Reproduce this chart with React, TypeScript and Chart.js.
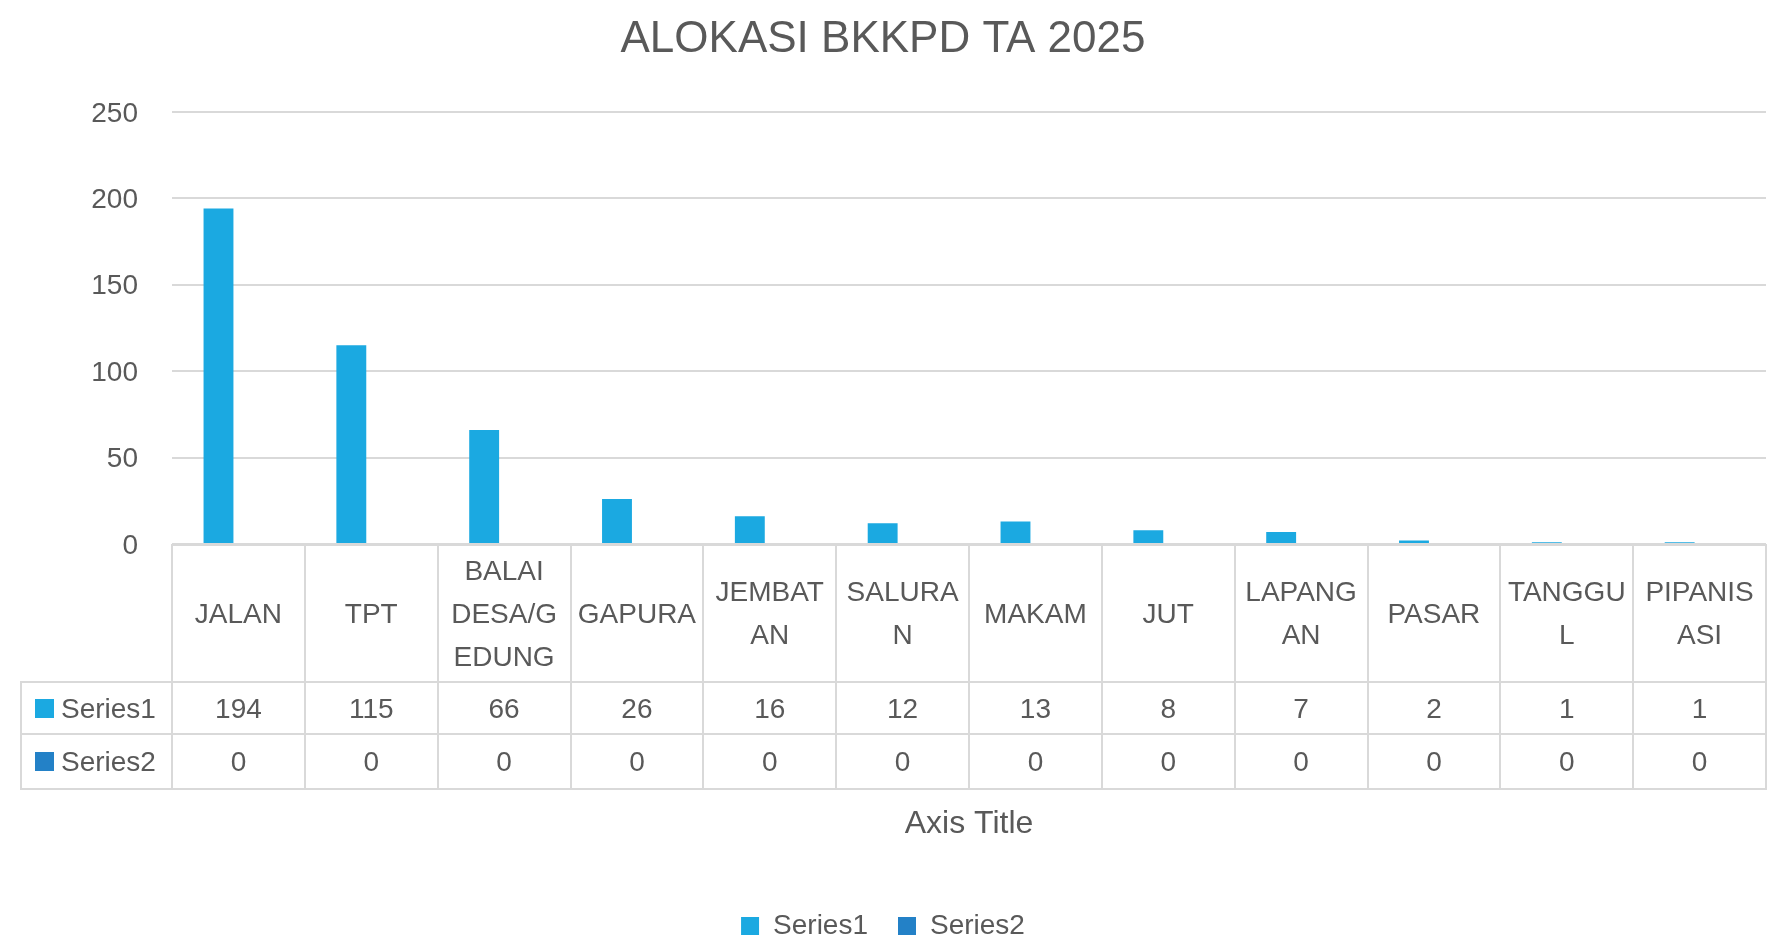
import React, { useEffect, useRef } from 'react';
import { Chart, registerables } from 'chart.js';

Chart.register(...registerables);

// ---------- data ----------
const chartTitle = 'ALOKASI BKKPD TA 2025';
const xAxisTitle = 'Axis Title';
const categories: string[][] = [
  ['JALAN'],
  ['TPT'],
  ['BALAI', 'DESA/G', 'EDUNG'],
  ['GAPURA'],
  ['JEMBAT', 'AN'],
  ['SALURA', 'N'],
  ['MAKAM'],
  ['JUT'],
  ['LAPANG', 'AN'],
  ['PASAR'],
  ['TANGGU', 'L'],
  ['PIPANIS', 'ASI'],
];
const seriesNames = ['Series1', 'Series2'];
const series1 = [194, 115, 66, 26, 16, 12, 13, 8, 7, 2, 1, 1];
const series2 = [0, 0, 0, 0, 0, 0, 0, 0, 0, 0, 0, 0];
const yTicks = [0, 50, 100, 150, 200, 250];

// ---------- styles ----------
const FONT = '"Liberation Sans", Arial, sans-serif';
const TEXT = '#595959';
const GRID = '#D9D9D9';
const COLORS = ['#1BA9E1', '#2381C7'];
const HEADER_H = 138;
const ROW_H = [52, 55];
const TABLE_LEFT = 21;
const LINE_H = 43;
const TABLE_FONT = 28;
const TEXT_SHIFT = 2;

function tableGeom(chart: any) {
  const { chartArea } = chart;
  const n = chart.data.labels.length;
  const left = chartArea.left;
  const right = chartArea.right;
  const colW = (right - left) / n;
  const top = chartArea.bottom;
  const hb = top + HEADER_H;
  const r1 = hb + ROW_H[0];
  const r2 = r1 + ROW_H[1];
  return { n, left, right, colW, top, hb, r1, r2 };
}

const tablePlugin = {
  id: 'dataTable',
  beforeDatasetsDraw(chart: any) {
    const { ctx } = chart;
    const { n, left, right, colW, top, hb, r1, r2 } = tableGeom(chart);
    ctx.save();
    ctx.strokeStyle = GRID;
    ctx.lineWidth = 2;
    ctx.beginPath();
    const hline = (x0: number, x1: number, y: number) => {
      ctx.moveTo(x0, y);
      ctx.lineTo(x1, y);
    };
    const vline = (xx: number, y0: number, y1: number) => {
      ctx.moveTo(xx, y0);
      ctx.lineTo(xx, y1);
    };
    hline(left, right + 1, top + 1);
    hline(TABLE_LEFT - 1, right + 1, hb);
    hline(TABLE_LEFT - 1, right + 1, r1);
    hline(TABLE_LEFT - 1, right + 1, r2);
    for (let i = 0; i <= n; i++) {
      vline(Math.round(left + i * colW), top, r2);
    }
    vline(TABLE_LEFT, hb, r2);
    ctx.stroke();
    ctx.restore();
  },
  afterDraw(chart: any) {
    const { ctx } = chart;
    const x = chart.scales.x;
    const { top, hb, r1, r2 } = tableGeom(chart);

    ctx.save();
    ctx.font = `${TABLE_FONT}px ${FONT}`;
    ctx.fillStyle = TEXT;
    ctx.textAlign = 'center';
    ctx.textBaseline = 'middle';
    const cyHead = (top + hb) / 2 + TEXT_SHIFT;
    categories.forEach((lines, i) => {
      const cx = x.getPixelForValue(i);
      lines.forEach((ln, j) => {
        ctx.fillText(ln, cx, cyHead + (j - (lines.length - 1) / 2) * LINE_H);
      });
    });

    const rowBounds = [
      [hb, r1],
      [r1, r2],
    ];
    chart.data.datasets.forEach((ds: any, k: number) => {
      const cy = (rowBounds[k][0] + rowBounds[k][1]) / 2;
      ctx.textAlign = 'center';
      ctx.fillStyle = TEXT;
      ds.data.forEach((v: number, i: number) => {
        ctx.fillText(String(v), x.getPixelForValue(i), cy + TEXT_SHIFT);
      });
      ctx.fillStyle = ds.backgroundColor;
      ctx.fillRect(35, Math.round(cy - 9.5), 19, 19);
      ctx.fillStyle = TEXT;
      ctx.textAlign = 'left';
      ctx.fillText(ds.label, 61, cy + TEXT_SHIFT);
    });
    ctx.restore();
  },
};

export default function App() {
  const canvasRef = useRef<HTMLCanvasElement | null>(null);

  useEffect(() => {
    if (!canvasRef.current) return;
    Chart.defaults.font.family = FONT;
    const chart = new Chart(canvasRef.current, {
      type: 'bar',
      data: {
        labels: categories,
        datasets: [
          {
            label: seriesNames[0],
            data: series1,
            backgroundColor: COLORS[0],
            borderWidth: 0,
            categoryPercentage: 0.6,
            barPercentage: 0.75,
          },
          {
            label: seriesNames[1],
            data: series2,
            backgroundColor: COLORS[1],
            borderWidth: 0,
            categoryPercentage: 0.6,
            barPercentage: 0.75,
          },
        ],
      },
      options: {
        animation: false,
        responsive: false,
        maintainAspectRatio: false,
        layout: { padding: { left: 0, right: 8, top: 0, bottom: 0 } },
        plugins: {
          title: {
            display: true,
            text: chartTitle,
            color: TEXT,
            font: { size: 44, weight: 'normal', family: FONT },
            padding: { top: 13, bottom: 46 },
          },
          legend: {
            display: true,
            position: 'bottom',
            labels: {
              color: TEXT,
              font: { size: 28, family: FONT },
              boxWidth: 18,
              boxHeight: 18,
              padding: 30,
            },
          },
          tooltip: { enabled: false },
        },
        scales: {
          x: {
            offset: true,
            ticks: { display: false },
            grid: { display: false, drawTicks: false },
            border: { display: false },
            title: {
              display: true,
              text: xAxisTitle,
              color: TEXT,
              font: { size: 32, family: FONT },
              padding: { top: 0, bottom: 39 },
            },
            afterFit(s: any) {
              s.height = 338;
            },
          },
          y: {
            min: yTicks[0],
            max: yTicks[yTicks.length - 1],
            ticks: {
              stepSize: yTicks[1] - yTicks[0],
              padding: 34,
              labelOffset: 2,
              color: TEXT,
              font: { size: 28, family: FONT },
            },
            grid: { color: GRID, lineWidth: 2, drawTicks: false },
            border: { display: false },
            afterFit(s: any) {
              s.width = 172;
            },
          },
        },
      },
      plugins: [tablePlugin],
    });
    return () => chart.destroy();
  }, []);

  return (
    <div
      style={{
        position: 'fixed',
        left: 0,
        top: 0,
        width: 1774,
        height: 938,
        overflow: 'hidden',
        background: '#ffffff',
      }}
    >
      <canvas ref={canvasRef} width={1774} height={950} style={{ display: 'block' }} />
    </div>
  );
}
